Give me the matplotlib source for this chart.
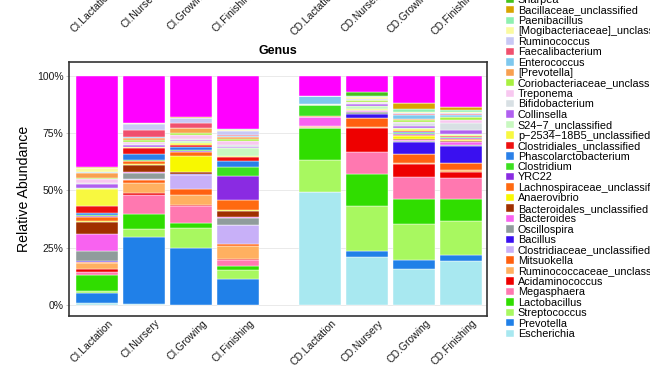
import matplotlib
matplotlib.use("Agg")
import matplotlib.pyplot as plt
import matplotlib.transforms as mtransforms
import numpy as np

plt.rcParams['font.family'] = ['Liberation Sans', 'DejaVu Sans']

# %% data (relative abundance in %, genus order = bottom of stack -> top)
samples = ['CI.Lactation', 'CI.Nursery', 'CI.Growing', 'CI.Finishing',
           'CD.Lactation', 'CD.Nursery', 'CD.Growing', 'CD.Finishing']

genera = ['Escherichia', 'Prevotella', 'Streptococcus', 'Lactobacillus',
          'Megasphaera', 'Acidaminococcus', 'Ruminococcaceae_unclassified',
          'Mitsuokella', 'Clostridiaceae_unclassified', 'Bacillus',
          'Oscillospira', 'Bacteroides', 'Bacteroidales_unclassified',
          'Anaerovibrio', 'Lachnospiraceae_unclassified', 'YRC22',
          'Clostridium', 'Phascolarctobacterium', 'Clostridiales_unclassified',
          'p\u22122534\u221218B5_unclassified', 'S24\u22127_unclassified',
          'Collinsella', 'Bifidobacterium', 'Treponema',
          'Coriobacteriaceae_unclassified', '[Prevotella]', 'Enterococcus',
          'Faecalibacterium', 'Ruminococcus', '[Mogibacteriaceae]_unclassified',
          'Paenibacillus', 'Bacillaceae_unclassified', 'Sharpea', 'Others']

genus_colors = ['#a8e8f0', '#2080e8', '#a8f860', '#30dd00',
                '#ff78b0', '#ee0000', '#ffb060',
                '#ff6010', '#c8b0f8', '#3a10f0',
                '#909c9c', '#f862f0', '#a03000',
                '#f8f800', '#ff6a10', '#8a2be2',
                '#3ce020', '#2a80e8', '#ee1010',
                '#f8f840', '#c8f8c0',
                '#b060f0', '#d8e0e4', '#f8c8f0',
                '#a8f040', '#f8a050', '#7ec8ee',
                '#f0506e', '#c8c8f5', '#fafaa0',
                '#8ef0b0', '#d9a300', '#44c21a', '#ff00ff']

ci_lactation = [1.0, 4.1, 1.0, 7.0, 1.4, 1.0, 2.9, 0.3, 0.2, 0.1, 4.4, 7.5, 5.5,
                0.2, 2.0, 0.1, 0.5, 1.1, 2.9, 7.2, 0.7, 1.7, 0.3, 2.0, 0.3, 2.2,
                0.2, 0.1, 0.1, 1.8, 0.1, 0.1, 0.1, 39.9]
ci_nursery = [0.3, 29.3, 3.6, 6.5, 8.3, 0.7, 4.5, 1.5, 0.2, 0.1, 2.5, 0.5, 2.9,
              0.5, 1.2, 0.3, 0.3, 2.6, 2.5, 0.5, 0.3, 0.6, 0.5, 1.0, 0.8, 0.8,
              0.3, 3.3, 2.6, 0.3, 0.1, 0.1, 0.1, 20.4]
ci_growing = [0.2, 24.6, 8.7, 2.2, 7.5, 0.3, 4.7, 2.2, 6.5, 0.1, 0.1, 0.1, 1.0,
              7.0, 1.5, 0.3, 0.8, 1.0, 1.2, 0.5, 0.9, 0.7, 0.3, 1.8, 1.0, 1.9,
              0.2, 2.2, 1.9, 0.2, 0.1, 0.1, 0.1, 18.1]
ci_finishing = [0.1, 11.2, 3.8, 2.0, 2.6, 0.2, 5.8, 0.7, 8.3, 0.1, 3.3, 0.1, 2.8,
                0.4, 4.4, 10.5, 3.8, 2.9, 1.7, 0.1, 3.8, 0.5, 0.5, 2.0, 0.8, 0.9,
                0.3, 0.5, 2.0, 0.3, 0.2, 0.1, 0.1, 23.2]
cd_lactation = [49.4, 0.1, 13.7, 14.0, 0.1, 0.1, 0.2, 0.3, 0.1, 0.1, 0.1, 3.9, 0.1,
                0.0, 0.1, 0.0, 5.0, 0.0, 0.1, 0.0, 0.1, 0.0, 0.1, 0.1, 0.1, 0.0,
                3.4, 0.0, 0.0, 0.0, 0.0, 0.0, 0.0, 8.8]
cd_nursery = [20.8, 2.9, 19.5, 13.9, 9.8, 10.4, 0.5, 3.6, 0.1, 1.9, 0.7, 0.4, 0.6,
              0.0, 0.0, 0.0, 0.0, 0.0, 0.0, 0.6, 1.0, 1.0, 0.5, 0.3, 1.0, 0.0,
              0.0, 0.0, 0.3, 0.8, 0.6, 0.1, 1.4, 7.3]
cd_growing = [15.6, 4.0, 15.6, 10.9, 9.9, 5.5, 0.5, 3.9, 0.1, 4.9, 0.5, 0.6, 0.3,
              1.4, 0.5, 0.4, 0.5, 0.4, 0.6, 0.5, 0.6, 1.0, 1.1, 0.4, 1.1, 0.3,
              1.9, 0.3, 0.3, 0.5, 1.6, 2.2, 0.3, 11.8]
cd_finishing = [19.3, 2.5, 15.0, 9.3, 9.2, 2.8, 0.6, 3.1, 0.3, 7.2, 0.6, 1.0, 0.5,
                0.6, 0.5, 0.4, 0.3, 0.3, 0.3, 0.3, 0.3, 1.9, 3.2, 1.0, 1.4, 0.3,
                0.8, 0.3, 0.3, 0.8, 0.8, 1.0, 0.3, 13.5]

# %% layout
x_pos = np.array([0, 1, 2, 3, 4.745, 5.745, 6.745, 7.745])
bar_w = 0.894

abund = np.column_stack([ci_lactation, ci_nursery, ci_growing, ci_finishing,
                         cd_lactation, cd_nursery, cd_growing, cd_finishing]) / 100.0

fig = plt.figure(figsize=(6.5, 3.66), dpi=100)
ax = fig.add_axes([69 / 650, 1 - 316 / 366, 418 / 650, 254 / 366])

bottom = np.zeros(len(samples))
handles = []
for i, g in enumerate(genera):
    bc = ax.bar(x_pos, abund[i], bar_w, bottom=bottom, color=genus_colors[i],
                edgecolor='white', linewidth=0.3, label=g)
    handles.append(bc)
    bottom += abund[i]

ax.set_xlim(-0.596, 8.298)
ax.set_ylim(-0.048, 1.06)
ax.set_yticks([0, 0.25, 0.5, 0.75, 1.0])
ax.set_yticklabels(['0%', '25%', '50%', '75%', '100%'])
ax.grid(axis='y', color='#e6e6e6', linewidth=0.6)
ax.set_axisbelow(True)
for sp in ax.spines.values():
    sp.set_color('#333333')
    sp.set_linewidth(1.2)
ax.tick_params(axis='y', length=2, width=0.6, color='#bbbbbb', pad=2, labelsize=7.5,
               labelcolor='#1a1a1a')


def rotated_labels(a):
    # 45 degree sample names, nudged right like the original
    a.tick_params(axis='x', length=0, pad=1.5, labelsize=7.5, labelcolor='#1a1a1a')
    a.set_xticks(x_pos)
    a.set_xticklabels(samples, rotation=45, ha='right', va='top', rotation_mode='anchor')
    shift = mtransforms.ScaledTranslation(11 / 100, 0, fig.dpi_scale_trans)
    for lab in a.get_xticklabels():
        lab.set_transform(lab.get_transform() + shift)


rotated_labels(ax)

ax.set_title('Genus', fontsize=9, fontweight='bold', pad=6)
ax.set_ylabel('Relative Abundance', fontsize=10.2)
ax.yaxis.set_label_coords(-0.09, 0.5)

# labels of the panel above (cut off by the top edge)
ax_top = fig.add_axes([69 / 650, 1 + 14 / 366, 418 / 650, 0.2])
ax_top.set_xlim(ax.get_xlim())
rotated_labels(ax_top)
ax_top.set_yticks([])
for sp in ax_top.spines.values():
    sp.set_visible(False)
ax_top.patch.set_visible(False)

fig.legend(handles[::-1], genera[::-1], loc='lower left',
           bbox_to_anchor=(506 / 650, (366 - 339) / 366), bbox_transform=fig.transFigure,
           frameon=False, fontsize=7.8, handlelength=0.72, handleheight=0.67,
           handletextpad=0.38, labelspacing=0.04, borderpad=0, borderaxespad=0)

fig.savefig('out.png', dpi=100)
